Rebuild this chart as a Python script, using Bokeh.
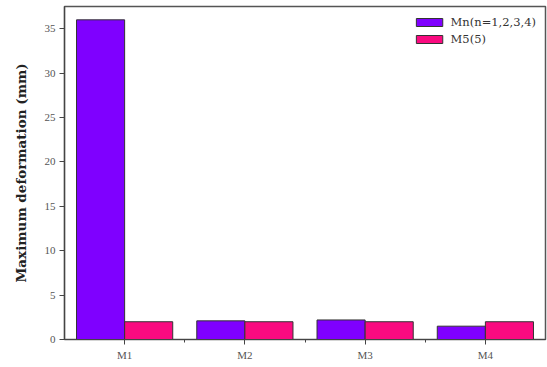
from bokeh.plotting import figure
from bokeh.models import FixedTicker, Range1d, ColumnDataSource, Legend, LegendItem
from bokeh.transform import dodge
from bokeh.embed import file_html
from bokeh.resources import INLINE

# Data
categories = ["M1", "M2", "M3", "M4"]
positions = [1, 2, 3, 4]
mn_values = [36.0, 2.1, 2.2, 1.5]
m5_values = [2.0, 2.0, 2.0, 2.0]
y_ticks = [0, 5, 10, 15, 20, 25, 30, 35]

src = ColumnDataSource(dict(x=positions, mn=mn_values, m5=m5_values))

p = figure(width=547, height=367, output_backend="svg", toolbar_location=None,
           x_range=Range1d(0.5, 4.5), y_range=Range1d(0, 37.5),
           min_border_left=64, min_border_right=2, min_border_top=6, min_border_bottom=28)

p.outline_line_color = "#555555"
p.outline_line_width = 1.5
p.grid.visible = False
p.background_fill_color = "white"
p.border_fill_color = "white"

r1 = p.vbar(x=dodge("x", -0.2), top="mn", width=0.4, source=src,
            fill_color="#7F00FF", line_color="#333333", line_width=1)
r2 = p.vbar(x=dodge("x", 0.2), top="m5", width=0.4, source=src,
            fill_color="#FA0A80", line_color="#333333", line_width=1)

tick_font = "Liberation Serif"
text_font = "DejaVu Serif"

p.xaxis.ticker = FixedTicker(ticks=positions, minor_ticks=[1.5, 2.5, 3.5])
p.xaxis.major_label_overrides = {pos: c for pos, c in zip(positions, categories)}
p.yaxis.ticker = FixedTicker(ticks=y_ticks, minor_ticks=[])

for ax in (p.xaxis, p.yaxis):
    ax.axis_line_color = "#444444"
    ax.axis_line_width = 1.2
    ax.major_tick_line_color = "#444444"
    ax.minor_tick_line_color = "#444444"
    ax.major_tick_out = 5
    ax.major_tick_in = 0
    ax.minor_tick_out = 3
    ax.minor_tick_in = 0
    ax.major_label_text_font = tick_font
    ax.major_label_text_font_size = "11px"
    ax.major_label_text_color = "#555555"

p.yaxis.axis_label = "Maximum deformation (mm)"
p.yaxis.axis_label_text_font = text_font
p.yaxis.axis_label_text_font_style = "bold"
p.yaxis.axis_label_text_font_size = "13.5px"
p.yaxis.axis_label_text_color = "#222222"
p.yaxis.axis_label_standoff = 13
p.yaxis.major_label_standoff = 4
p.xaxis.major_label_standoff = 4

legend = Legend(items=[LegendItem(label="Mn(n=1,2,3,4)", renderers=[r1]),
                       LegendItem(label="M5(5)", renderers=[r2])],
                location="top_right")
legend.border_line_color = None
legend.background_fill_alpha = 0
legend.label_text_font = text_font
legend.label_text_font_size = "11.5px"
legend.label_text_color = "#333333"
legend.glyph_width = 33
legend.glyph_height = 10
legend.label_height = 11
legend.spacing = 3
legend.padding = 0
legend.margin = 9
legend.label_standoff = 5
p.add_layout(legend)

open("out.html", "w").write(file_html(p, INLINE))
